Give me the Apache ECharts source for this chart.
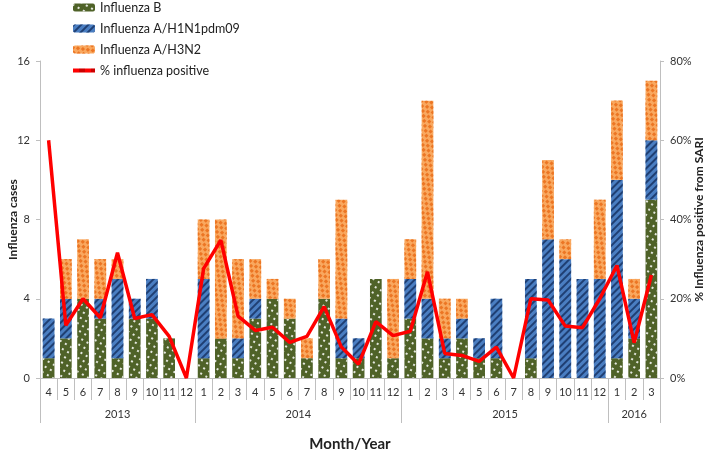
<!DOCTYPE html>
<html>
<head>
<meta charset="utf-8">
<script src="https://cdn.jsdelivr.net/npm/echarts@6/dist/echarts.min.js"></script>
<style>html,body{margin:0;padding:0;background:#fff}#c{width:709px;height:456px}</style>
</head>
<body>
<div id="c"></div>
<script>
var months = ['4','5','6','7','8','9','10','11','12',
  '1','2','3','4','5','6','7','8','9','10','11','12',
  '1','2','3','4','5','6','7','8','9','10','11','12',
  '1','2','3'];
var years = ['2013','2014','2015','2016'];
var yearMonthCounts = [9, 12, 12, 3];
var fluB  = [1,2,4,3,1,3,3,2,0, 1,2,1,3,4,3,1,4,1,1,5,1, 3,2,1,2,1,1,0,1,0,0,0,0, 1,2,9];
var fluH1 = [2,2,0,1,4,1,2,0,0, 4,0,1,1,0,0,0,0,2,1,0,0, 2,2,1,1,1,3,0,4,7,6,5,5, 9,2,3];
var fluH3 = [0,2,3,2,1,0,0,0,0, 3,6,4,2,1,1,1,2,6,0,0,4, 2,10,2,1,0,0,0,0,4,1,0,4, 4,1,3];
var pctPositive = [60,13.3,20,15.2,31.6,15,16,10.5,0,
  27.6,34.8,15.6,12,12.8,9,10.5,18,7.8,3.5,14.2,10.7,
  11.8,26.8,6.2,5.7,4.2,7.8,0,20,19.7,13.1,12.7,20,
  28.4,8.9,26];

// year boundaries and centres on a 0..36 value axis
var yearBounds = [0], yearCentres = [];
(function(){
  var acc = 0;
  for (var i = 0; i < yearMonthCounts.length; i++) {
    yearCentres.push(acc + yearMonthCounts[i] / 2);
    acc += yearMonthCounts[i];
    yearBounds.push(acc);
  }
})();

var gridColor = '#BFBFBF';
var txt = '#333';
var chart = echarts.init(document.getElementById('c'));
chart.setOption({
  animation: false,
  aria: { enabled: true, decal: { show: true } },
  textStyle: { fontFamily: 'Lato, Open Sans, Liberation Sans, sans-serif' },
  legend: {
    orient: 'vertical', left: 73, top: 1, padding: 0,
    itemWidth: 22, itemHeight: 8, itemGap: 8,
    textStyle: { fontSize: 12.5, color: '#222' },
    data: ['Influenza B', 'Influenza A/H1N1pdm09', 'Influenza A/H3N2',
      { name: '% influenza positive', icon: 'path://M0,0H22V4H0Z' }]
  },
  grid: { left: 40, right: 49, top: 61, bottom: 78, outerBoundsMode: 'none' },
  xAxis: [{
    type: 'category', data: months, boundaryGap: true,
    axisLine: { lineStyle: { color: gridColor } },
    axisTick: { show: true, interval: 0, length: 22, lineStyle: { color: gridColor } },
    axisLabel: { interval: 0, fontSize: 11, color: txt, margin: 9 },
    name: 'Month/Year', nameLocation: 'middle', nameGap: 59, nameMoveOverlap: false,
    nameTextStyle: { fontSize: 15, fontWeight: 'bold', color: '#222' }
  }, {
    type: 'value', min: 0, max: 36, position: 'bottom',
    axisLine: { show: false },
    splitLine: { show: false },
    axisTick: { show: true, customValues: yearBounds, length: 45, lineStyle: { color: gridColor } },
    axisLabel: {
      customValues: yearCentres, fontSize: 11, color: txt, margin: 31,
      formatter: function (v) { return years[yearCentres.indexOf(v)] || ''; }
    }
  }],
  yAxis: [{
    type: 'value', min: 0, max: 16, interval: 4,
    axisLine: { show: true, lineStyle: { color: gridColor } },
    axisTick: { show: true, length: 4, lineStyle: { color: gridColor } },
    splitLine: { show: false },
    axisLabel: { fontSize: 11, color: txt, margin: 10 },
    name: 'Influenza cases', nameLocation: 'middle', nameGap: 21, nameRotate: 90, nameMoveOverlap: false,
    nameTextStyle: { fontSize: 12, fontWeight: 'bold', color: '#222' }
  }, {
    type: 'value', min: 0, max: 80, interval: 20, position: 'right',
    axisLine: { show: true, lineStyle: { color: gridColor } },
    axisTick: { show: true, length: 4, lineStyle: { color: gridColor } },
    splitLine: { show: false },
    axisLabel: { fontSize: 11, color: txt, margin: 10, formatter: '{value}%' },
    name: '% Influenza positive from SARI', nameLocation: 'middle', nameGap: 33, nameRotate: 90, nameMoveOverlap: false,
    nameTextStyle: { fontSize: 12, fontWeight: 'bold', color: '#222' }
  }],
  series: [{
    name: 'Influenza B', type: 'bar', stack: 'flu', data: fluB, barCategoryGap: '32%',
    itemStyle: { color: '#4F6228', decal: { symbol: 'rect', symbolSize: 1, color: 'rgba(255,255,255,0.85)', dashArrayX: [1.5, 3.5], dashArrayY: [1.5, 4] } }
  }, {
    name: 'Influenza A/H1N1pdm09', type: 'bar', stack: 'flu', data: fluH1,
    itemStyle: { color: '#4A7EC2', decal: { symbol: 'rect', symbolSize: 1, color: '#1F3F73', dashArrayX: [1, 0], dashArrayY: [1.4, 2.6], rotation: -Math.PI / 4 } }
  }, {
    name: 'Influenza A/H3N2', type: 'bar', stack: 'flu', data: fluH3,
    itemStyle: { color: '#F9A85F', decal: { symbol: 'rect', symbolSize: 1, color: '#EC7624', dashArrayX: [[3, 3], [0, 3, 3, 0]], dashArrayY: [2.6, 0.6] } }
  }, {
    name: '% influenza positive', type: 'line', yAxisIndex: 1, data: pctPositive,
    symbol: 'none', lineStyle: { color: '#FF0000', width: 3.5 }, itemStyle: { color: '#FF0000' }, z: 5
  }]
});
</script>
</body>
</html>
